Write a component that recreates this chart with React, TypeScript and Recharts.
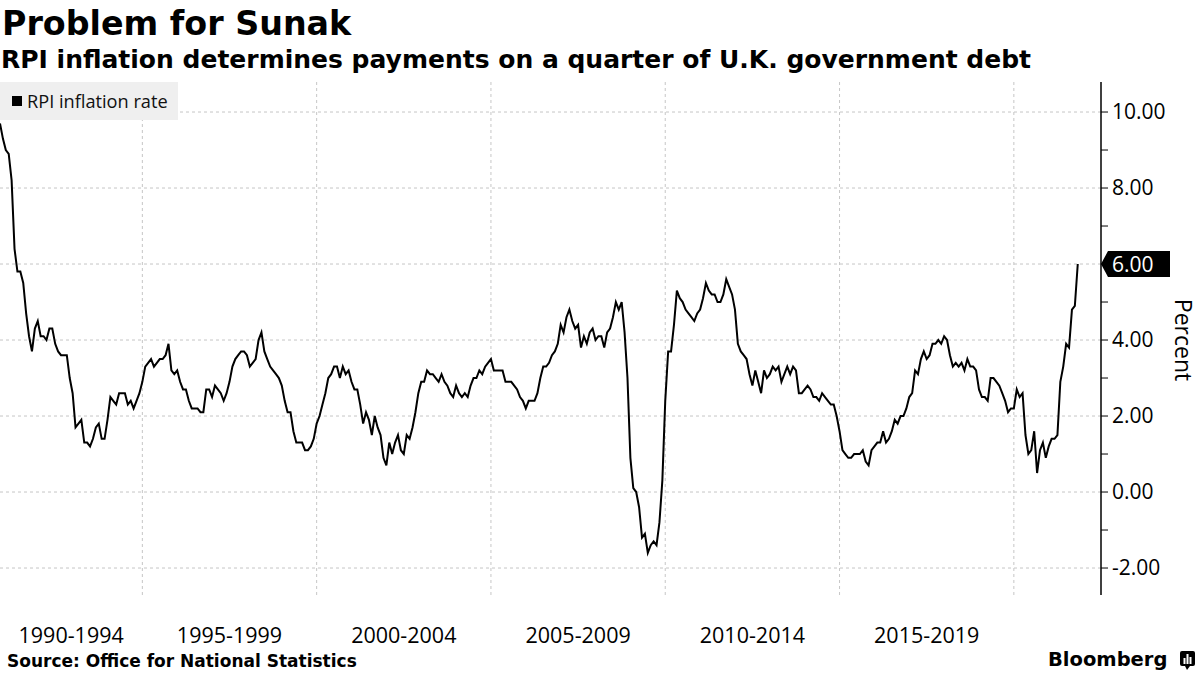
import React from 'react';
import { LineChart, Line, XAxis, YAxis, ReferenceLine, ReferenceDot, Legend } from 'recharts';

// Monthly UK RPI inflation (%), Nov 1990 .. Oct 2021
const rpi1990 = [9.7, 9.3];
const rpi1991 = [9.0, 8.9, 8.2, 6.4, 5.8, 5.8, 5.5, 4.7, 4.1, 3.7, 4.3, 4.5];
const rpi1992 = [4.1, 4.1, 4.0, 4.3, 4.3, 3.9, 3.7, 3.6, 3.6, 3.6, 3.0, 2.6];
const rpi1993 = [1.7, 1.8, 1.9, 1.3, 1.3, 1.2, 1.4, 1.7, 1.8, 1.4, 1.4, 1.9];
const rpi1994 = [2.5, 2.4, 2.3, 2.6, 2.6, 2.6, 2.3, 2.4, 2.2, 2.4, 2.6, 2.9];
const rpi1995 = [3.3, 3.4, 3.5, 3.3, 3.4, 3.5, 3.5, 3.6, 3.9, 3.2, 3.1, 3.2];
const rpi1996 = [2.9, 2.7, 2.7, 2.4, 2.2, 2.2, 2.2, 2.1, 2.1, 2.7, 2.7, 2.5];
const rpi1997 = [2.8, 2.7, 2.6, 2.4, 2.6, 2.9, 3.3, 3.5, 3.6, 3.7, 3.7, 3.6];
const rpi1998 = [3.3, 3.4, 3.5, 4.0, 4.2, 3.7, 3.5, 3.3, 3.2, 3.1, 3.0, 2.8];
const rpi1999 = [2.4, 2.1, 2.1, 1.6, 1.3, 1.3, 1.3, 1.1, 1.1, 1.2, 1.4, 1.8];
const rpi2000 = [2.0, 2.3, 2.6, 3.0, 3.1, 3.3, 3.3, 3.0, 3.3, 3.1, 3.2, 2.9];
const rpi2001 = [2.7, 2.7, 2.3, 1.8, 2.1, 1.9, 1.5, 2.0, 1.7, 1.5, 0.9, 0.7];
const rpi2002 = [1.3, 1.0, 1.3, 1.5, 1.1, 1.0, 1.5, 1.4, 1.7, 2.1, 2.6, 2.9];
const rpi2003 = [2.9, 3.2, 3.1, 3.1, 3.0, 2.9, 3.1, 2.9, 2.8, 2.6, 2.5, 2.8];
const rpi2004 = [2.6, 2.5, 2.6, 2.5, 2.8, 3.0, 3.0, 3.2, 3.1, 3.3, 3.4, 3.5];
const rpi2005 = [3.2, 3.2, 3.2, 3.2, 2.9, 2.9, 2.9, 2.8, 2.7, 2.5, 2.4, 2.2];
const rpi2006 = [2.4, 2.4, 2.4, 2.6, 3.0, 3.3, 3.3, 3.4, 3.6, 3.7, 3.9, 4.4];
const rpi2007 = [4.2, 4.6, 4.8, 4.5, 4.3, 4.4, 3.8, 4.1, 3.9, 4.2, 4.3, 4.0];
const rpi2008 = [4.1, 4.1, 3.8, 4.2, 4.3, 4.6, 5.0, 4.8, 5.0, 4.2, 3.0, 0.9];
const rpi2009 = [0.1, 0.0, -0.4, -1.2, -1.1, -1.6, -1.4, -1.3, -1.4, -0.8, 0.3, 2.4];
const rpi2010 = [3.7, 3.7, 4.4, 5.3, 5.1, 5.0, 4.8, 4.7, 4.6, 4.5, 4.7, 4.8];
const rpi2011 = [5.1, 5.5, 5.3, 5.2, 5.2, 5.0, 5.0, 5.2, 5.6, 5.4, 5.2, 4.8];
const rpi2012 = [3.9, 3.7, 3.6, 3.5, 3.1, 2.8, 3.2, 2.9, 2.6, 3.2, 3.0, 3.1];
const rpi2013 = [3.3, 3.2, 3.3, 2.9, 3.1, 3.3, 3.1, 3.3, 3.2, 2.6, 2.6, 2.7];
const rpi2014 = [2.8, 2.7, 2.5, 2.5, 2.4, 2.6, 2.5, 2.4, 2.3, 2.3, 2.0, 1.6];
const rpi2015 = [1.1, 1.0, 0.9, 0.9, 1.0, 1.0, 1.0, 1.1, 0.8, 0.7, 1.1, 1.2];
const rpi2016 = [1.3, 1.3, 1.6, 1.3, 1.4, 1.6, 1.9, 1.8, 2.0, 2.0, 2.2, 2.5];
const rpi2017 = [2.6, 3.2, 3.1, 3.5, 3.7, 3.5, 3.6, 3.9, 3.9, 4.0, 3.9, 4.1];
const rpi2018 = [4.0, 3.6, 3.3, 3.4, 3.3, 3.4, 3.2, 3.5, 3.3, 3.3, 3.2, 2.7];
const rpi2019 = [2.5, 2.5, 2.4, 3.0, 3.0, 2.9, 2.8, 2.6, 2.4, 2.1, 2.2, 2.2];
const rpi2020 = [2.7, 2.5, 2.6, 1.5, 1.0, 1.1, 1.6, 0.5, 1.1, 1.3, 0.9, 1.2];
const rpi2021 = [1.4, 1.4, 1.5, 2.9, 3.3, 3.9, 3.8, 4.8, 4.9, 6.0];

const rpiValues = [
  ...rpi1990, ...rpi1991, ...rpi1992, ...rpi1993, ...rpi1994, ...rpi1995, ...rpi1996,
  ...rpi1997, ...rpi1998, ...rpi1999, ...rpi2000, ...rpi2001, ...rpi2002, ...rpi2003,
  ...rpi2004, ...rpi2005, ...rpi2006, ...rpi2007, ...rpi2008, ...rpi2009, ...rpi2010,
  ...rpi2011, ...rpi2012, ...rpi2013, ...rpi2014, ...rpi2015, ...rpi2016, ...rpi2017,
  ...rpi2018, ...rpi2019, ...rpi2020, ...rpi2021,
];

// x = months since end of Nov 1990; axis runs to end of Jun 2022
const X_MAX = 379;
const gridYears = [1995, 2000, 2005, 2010, 2015, 2020];
const bandYears = [1990, 1995, 2000, 2005, 2010, 2015];
const bandLabels = ['1990-1994', '1995-1999', '2000-2004', '2005-2009', '2010-2014', '2015-2019'];
const yMajorTicks = [-2, 0, 2, 4, 6, 8, 10];
const yAllTicks = [-2, -1, 0, 1, 2, 3, 4, 5, 6, 7, 8, 9, 10];
const Y_DOMAIN: [number, number] = [-2.71, 10.79];

const yearStartIdx = (y: number) => (y - 1991) * 12 + 1;
const data = rpiValues.map((v, i) => ({ i, rpi: v }));
const lastPoint = data[data.length - 1];
const bandMids = bandYears.map((y) => {
  const s = Math.max(0, yearStartIdx(y));
  const e = Math.min(X_MAX, yearStartIdx(y + 5));
  return (s + e) / 2;
});

const SANS = '"Open Sans", sans-serif';
const BOLD = '"DejaVu Sans", sans-serif';
const GRID = '#c6c6c6';

const XTick = (props: any) => {
  const { x, y, payload } = props;
  const idx = bandMids.indexOf(payload.value);
  return (
    <text x={x} y={y + 48} textAnchor="middle" fontFamily={SANS} fontSize={21.5} fill="#000">
      {bandLabels[idx]}
    </text>
  );
};

const TagShape = (props: any) => {
  const { cx, cy } = props;
  return (
    <g>
      <polygon
        points={`${cx},${cy} ${cx + 7},${cy - 13} ${cx + 69},${cy - 13} ${cx + 69},${cy + 13} ${cx + 7},${cy + 13}`}
        fill="#000"
      />
      <text x={cx + 11} y={cy + 7.5} fontFamily={SANS} fontSize={21} fill="#fff">
        {lastPoint.rpi.toFixed(2)}
      </text>
    </g>
  );
};

const LegendBox = () => (
  <div
    style={{
      background: '#efefef',
      height: 38,
      width: 178,
      display: 'flex',
      alignItems: 'center',
      boxSizing: 'border-box',
      paddingLeft: 12,
      fontFamily: SANS,
      fontSize: 18.2,
      color: '#111',
    }}
  >
    <span style={{ display: 'inline-block', width: 10, height: 10, background: '#000', marginRight: 5 }} />
    RPI inflation rate
  </div>
);

const yTickLabel = (v: number) =>
  yMajorTicks.includes(v) && Math.abs(v - lastPoint.rpi) > 0.4 ? v.toFixed(2) : '';

export default function App() {
  return (
    <div style={{ position: 'absolute', left: 0, top: 0, width: 1200, height: 675, background: '#fff' }}>
      <LineChart width={1200} height={675} data={data} margin={{ top: 82, right: 0, bottom: 0, left: 0 }}>
        <XAxis
          dataKey="i"
          type="number"
          domain={[0, X_MAX]}
          ticks={bandMids}
          interval={0}
          axisLine={false}
          tickLine={false}
          tickSize={0}
          tickMargin={0}
          height={80}
          tick={<XTick />}
          allowDataOverflow
        />
        <YAxis
          orientation="right"
          type="number"
          domain={Y_DOMAIN}
          ticks={yAllTicks}
          interval={0}
          allowDataOverflow
          width={99}
          axisLine={{ stroke: '#000', strokeWidth: 1.5 }}
          tickLine={{ stroke: '#000' }}
          tickSize={7}
          tickMargin={4}
          tick={{ fontFamily: SANS, fontSize: 21, fill: '#000' }}
          tickFormatter={yTickLabel}
        />
        {yMajorTicks.map((v) => (
          <ReferenceLine key={`h${v}`} y={v} stroke={GRID} strokeDasharray="3 3" />
        ))}
        {gridYears.map((y) => (
          <ReferenceLine key={`v${y}`} x={yearStartIdx(y)} stroke={GRID} strokeDasharray="3 3" />
        ))}
        <Legend
          layout="horizontal"
          verticalAlign="middle"
          align="center"
          wrapperStyle={{ left: 0, top: 82, width: 178, height: 38 }}
          content={<LegendBox />}
        />
        <Line
          dataKey="rpi"
          name="RPI inflation rate"
          type="linear"
          stroke="#000"
          strokeWidth={2}
          dot={false}
          isAnimationActive={false}
        />
        <ReferenceDot x={X_MAX} y={lastPoint.rpi} r={0} ifOverflow="visible" shape={<TagShape />} />
      </LineChart>
      <svg
        width={1200}
        height={675}
        style={{ position: 'absolute', left: 0, top: 0, pointerEvents: 'none' }}
      >
        <text x={2} y={35} fontFamily={BOLD} fontWeight="bold" fontSize={33.3} fill="#000">
          Problem for Sunak
        </text>
        <text x={1} y={68} fontFamily={BOLD} fontWeight="bold" fontSize={25} fill="#000">
          RPI inflation determines payments on a quarter of U.K. government debt
        </text>
        <text
          transform="translate(1175,340) rotate(90)"
          textAnchor="middle"
          fontFamily={SANS}
          fontSize={23}
          fill="#000"
        >
          Percent
        </text>
        <text x={7} y={667} fontFamily={BOLD} fontWeight="bold" fontSize={17} fill="#000">
          Source: Office for National Statistics
        </text>
        <text x={1048} y={666} fontFamily={BOLD} fontWeight="bold" fontSize={19.5} fill="#000">
          Bloomberg
        </text>
        <g>
          <rect x={1180} y={651} width={15} height={15} rx={2} fill="#000" />
          <polygon points="1185,666 1190,666 1187,670" fill="#000" />
          <rect x={1183.5} y={658} width={2} height={6} fill="#fff" />
          <rect x={1186.5} y={654} width={2} height={10} fill="#fff" />
          <rect x={1189.5} y={657} width={2} height={7} fill="#fff" />
        </g>
      </svg>
    </div>
  );
}
